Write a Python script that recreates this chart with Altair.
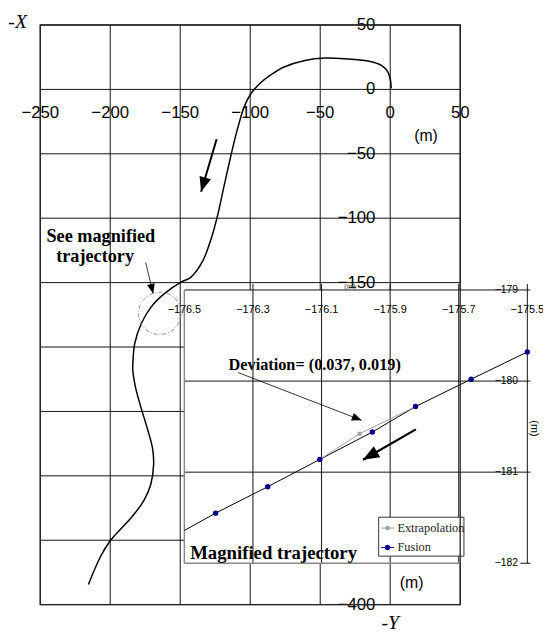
import math
import altair as alt
import pandas as pd

# ---------------- data ----------------
# main trajectory: horizontal = -Y (m), vertical = -X (m)
path_h = [0.7, 0.2, -1.7, -6.3, -15.8, -32.2, -46.3, -60.9, -75.8, -85.6, -93.1, -99.3,
          -104.2, -107.9, -111.6, -115.4, -119.1, -123.2, -127.7, -133.9, -142.5, -149.5,
          -161.3, -170.7, -177.7, -182.4, -183.6, -183.9, -182.2, -178.5, -173.5, -169.8,
          -169.0, -171.0, -176.0, -184.6, -193.3, -200.0, -206.9, -215.6]
path_v = [0.8, 7.2, 13.6, 18.6, 22.0, 23.8, 24.3, 22.5, 17.4, 11.0, 4.6, -3.0,
          -13.2, -26.0, -41.3, -59.1, -77.0, -97.4, -115.3, -133.1, -145.9, -149.7,
          -158.6, -168.8, -181.5, -196.8, -208.0, -217.3, -230.0, -245.3, -263.2, -278.5,
          -291.2, -306.5, -319.2, -332.0, -342.2, -350.4, -362.6, -384.3]

main_h_ticks = [-250, -200, -150, -100, -50, 0, 50]
main_h_labels = ["−250", "−200", "−150", "−100", "−50", "0", "50"]
main_v_ticks = [50, 0, -50, -100, -150, -200, -250, -300, -350, -400]
main_v_labels = ["50", "0", "−50", "−100", "−150", "−200", "−250", "−300", "−350", "−400"]

inset_h_ticks = [-176.5, -176.3, -176.1, -175.9, -175.7, -175.5]
inset_h_labels = ["−176.5", "−176.3", "−176.1", "−175.9", "−175.7", "−175.5"]
inset_v_ticks = [-179, -180, -181, -182]
inset_v_labels = ["−179", "−180", "−181", "−182"]

series_names = ["Extrapolation", "Fusion"]
fusion_h = [-175.500, -175.664, -175.826, -175.952, -176.105, -176.257, -176.409]
fusion_v = [-179.68, -179.98, -180.28, -180.56, -180.86, -181.16, -181.45]
fusion_tail_h, fusion_tail_v = -176.5, -181.64
extrap_h = [-176.105, -175.989, -175.826]
extrap_v = [-180.86, -180.578, -180.28]

# ---------------- layout ----------------
W, H = 426, 588
MAIN_X, MAIN_Y = [-250, 50], [-400, 50]
INSET_X, INSET_Y = [-176.5, -175.5], [-182, -179]
INSET_XR, INSET_YR = [146.2, 494.1], [546.0, 268.8]
TICK_UP = 0.065      # inset tick length above the top axis (in inset units)
TICK_RIGHT = 0.009   # inset tick length right of the right axis

SANS = "Liberation Sans, Arial, sans-serif"
SERIF = "Liberation Serif, Times New Roman, serif"
HEAD = "M0,0L-1,2.5L1,2.5Z"


def X(f, inset=False):
    if inset:
        sc = alt.Scale(domain=INSET_X, range=INSET_XR, nice=False, zero=False)
    else:
        sc = alt.Scale(domain=MAIN_X, nice=False, zero=False)
    return alt.X(f, type="quantitative", scale=sc, axis=None)


def Y(f, inset=False):
    if inset:
        sc = alt.Scale(domain=INSET_Y, range=INSET_YR, nice=False, zero=False)
    else:
        sc = alt.Scale(domain=MAIN_Y, nice=False, zero=False)
    return alt.Y(f, type="quantitative", scale=sc, axis=None)


def px_per_unit(inset):
    if inset:
        return (INSET_XR[1] - INSET_XR[0]) / 1.0, (INSET_YR[0] - INSET_YR[1]) / 3.0
    return W / 300.0, H / 450.0


def arrow(x1, y1, x2, y2, inset, sw, head, color="black"):
    sx, sy = px_per_unit(inset)
    dx, dy = (x2 - x1) * sx, -(y2 - y1) * sy
    ang = math.degrees(math.atan2(dx, -dy)) % 360
    df = pd.DataFrame({"x1": [x1], "y1": [y1], "x2": [x2], "y2": [y2]})
    line = alt.Chart(df).mark_rule(color=color, strokeWidth=sw).encode(
        x=X("x1", inset), y=Y("y1", inset), x2=alt.X2("x2"), y2=alt.Y2("y2"))
    tip = alt.Chart(df).mark_point(shape=HEAD, filled=True, size=head, angle=ang,
                                   color=color, opacity=1, strokeWidth=0).encode(
        x=X("x2", inset), y=Y("y2", inset))
    return [line, tip]


def text(t, h, v, inset=False, **kw):
    df = pd.DataFrame({"h": [h], "v": [v], "t": [t]})
    return alt.Chart(df).mark_text(**kw).encode(x=X("h", inset), y=Y("v", inset), text="t:N")


layers = []

# ---- main grid ----
layers.append(alt.Chart(pd.DataFrame({"v": main_h_ticks})).mark_rule(color="#111", strokeWidth=1)
              .encode(x=X("v"), y=alt.value(0), y2=alt.value(H)))
layers.append(alt.Chart(pd.DataFrame({"v": main_v_ticks})).mark_rule(color="#111", strokeWidth=1)
              .encode(y=Y("v"), x=alt.value(0), x2=alt.value(W)))

# ---- main tick labels (axes cross at the origin) ----
layers.append(alt.Chart(pd.DataFrame({"v": main_h_ticks, "t": main_h_labels, "z": 0}))
              .mark_text(font=SANS, fontSize=17, baseline="middle", dy=24, color="black")
              .encode(x=X("v"), y=Y("z"), text="t:N"))
layers.append(alt.Chart(pd.DataFrame({"v": main_v_ticks, "t": main_v_labels, "z": 0}))
              .mark_text(font=SANS, fontSize=17, baseline="middle", align="right", dx=-15, color="black")
              .encode(x=X("z"), y=Y("v"), text="t:N"))
layers.append(text("(m)", 25.6, -36.2, font=SANS, fontSize=16, baseline="middle"))
layers.append(text("(m)", 15.3, -383.0, font=SANS, fontSize=16, baseline="middle"))
layers.append(alt.Chart(pd.DataFrame({"t": ["-X"]})).mark_text(
    font=SERIF, fontStyle="italic", fontSize=20, baseline="middle")
    .encode(x=alt.value(-22.9), y=alt.value(-3.2), text="t:N"))
layers.append(alt.Chart(pd.DataFrame({"h": [0], "t": ["-Y"]})).mark_text(
    font=SERIF, fontStyle="italic", fontSize=20, baseline="middle")
    .encode(x=X("h"), y=alt.value(606.3), text="t:N"))

# ---- main trajectory ----
layers.append(alt.Chart(pd.DataFrame({"i": range(len(path_h)), "h": path_h, "v": path_v}))
              .mark_line(color="black", strokeWidth=1.5, interpolate="catmull-rom")
              .encode(x=X("h"), y=Y("v"), order=alt.Order("i:Q")))
layers += arrow(-124.0, -38.75, -135.1, -79.5, False, 2, 144)

# "See magnified trajectory" note
layers.append(text("See magnified", -206.7, -114.0, font=SERIF, fontWeight="bold", fontSize=18.5))
layers.append(text("trajectory", -210.8, -129.3, font=SERIF, fontWeight="bold", fontSize=18.5))
layers += arrow(-174.7, -134.4, -169.3, -158.6, False, 0.8, 64)
layers.append(alt.Chart(pd.DataFrame({"h": [-164.6], "v": [-173.9]})).mark_point(
    shape="circle", size=1849, filled=False, color="#8a8a8a", strokeWidth=1,
    strokeDash=[4, 2, 1, 2], opacity=1).encode(x=X("h"), y=Y("v")))

# ---------------- inset (magnified trajectory) ----------------
layers.append(alt.Chart(pd.DataFrame({"a": [INSET_X[0]], "b": [INSET_X[1]], "c": [INSET_Y[0]], "d": [INSET_Y[1]]}))
              .mark_rect(color="white", strokeWidth=0)
              .encode(x=X("a", True), x2=alt.X2("b"), y=Y("c", True), y2=alt.Y2("d")))
# vertical grid (with ticks above the top axis)
layers.append(alt.Chart(pd.DataFrame({"v": inset_h_ticks[1:-1], "top": INSET_Y[1] + TICK_UP, "bot": INSET_Y[0]}))
              .mark_rule(color="#111", strokeWidth=1)
              .encode(x=X("v", True), y=Y("top", True), y2=alt.Y2("bot")))
# horizontal grid + top axis
layers.append(alt.Chart(pd.DataFrame({"v": inset_v_ticks[:-1], "l": INSET_X[0], "r": INSET_X[1] + TICK_RIGHT}))
              .mark_rule(color="#111", strokeWidth=1)
              .encode(y=Y("v", True), x=X("l", True), x2=alt.X2("r")))
# right axis line
layers.append(alt.Chart(pd.DataFrame({"h": [INSET_X[1]], "top": [INSET_Y[1] + TICK_UP], "bot": [INSET_Y[0]]}))
              .mark_rule(color="#111", strokeWidth=1)
              .encode(x=X("h", True), y=Y("top", True), y2=alt.Y2("bot")))
# bottom tick on the right axis
layers.append(alt.Chart(pd.DataFrame({"v": [INSET_Y[0]], "l": [INSET_X[1] - 0.02], "r": [INSET_X[1] + TICK_RIGHT]}))
              .mark_rule(color="#111", strokeWidth=1)
              .encode(y=Y("v", True), x=X("l", True), x2=alt.X2("r")))
# gray frame (left + bottom)
layers.append(alt.Chart(pd.DataFrame({"h": [INSET_X[0]], "top": [INSET_Y[1]], "bot": [INSET_Y[0]]}))
              .mark_rule(color="#8a8a8a", strokeWidth=1.5)
              .encode(x=X("h", True), y=Y("top", True), y2=alt.Y2("bot")))
layers.append(alt.Chart(pd.DataFrame({"v": [INSET_Y[0]], "l": [INSET_X[0]], "r": [inset_h_ticks[-2]]}))
              .mark_rule(color="#8a8a8a", strokeWidth=1.5)
              .encode(y=Y("v", True), x=X("l", True), x2=alt.X2("r")))

# inset tick labels
layers.append(alt.Chart(pd.DataFrame({"v": inset_h_ticks, "t": inset_h_labels, "z": INSET_Y[1]}))
              .mark_text(font=SANS, fontSize=11, baseline="middle", dy=20, color="black")
              .encode(x=X("v", True), y=Y("z", True), text="t:N"))
layers.append(alt.Chart(pd.DataFrame({"v": inset_v_ticks, "t": inset_v_labels, "z": INSET_X[1]}))
              .mark_text(font=SANS, fontSize=10.5, baseline="middle", align="right", dx=-9.5, color="black")
              .encode(x=X("z", True), y=Y("v", True), text="t:N"))
layers.append(text("(m)", -175.482, -180.52, True, font=SANS, fontSize=11, angle=90, baseline="middle"))
layers.append(text("(m)", -176.017, -178.973, True, font=SANS, fontSize=8, baseline="middle", color="#555"))

# inset series
fus_df = pd.DataFrame({"i": range(len(fusion_h) + 1), "h": fusion_h + [fusion_tail_h], "v": fusion_v + [fusion_tail_v]})
layers.append(alt.Chart(fus_df).mark_line(color="black", strokeWidth=1)
              .encode(x=X("h", True), y=Y("v", True), order=alt.Order("i:Q")))
ext_df = pd.DataFrame({"i": range(len(extrap_h)), "h": extrap_h, "v": extrap_v})
layers.append(alt.Chart(ext_df).mark_line(color="#a0a0a0", strokeWidth=1)
              .encode(x=X("h", True), y=Y("v", True), order=alt.Order("i:Q")))
layers.append(alt.Chart(ext_df).mark_point(shape="square", filled=True, size=16, color="#a0a0a0", opacity=1)
              .encode(x=X("h", True), y=Y("v", True)))
layers.append(alt.Chart(pd.DataFrame({"h": fusion_h, "v": fusion_v})).mark_point(
    shape="circle", filled=True, size=30, color="#00008b", opacity=1)
    .encode(x=X("h", True), y=Y("v", True)))

# inset annotations
layers.append(text("Deviation= (0.037, 0.019)", -176.371, -179.882, True,
                   font=SERIF, fontWeight="bold", fontSize=16.5, align="left", baseline="alphabetic"))
layers += arrow(-176.343, -179.907, -175.983, -180.431, True, 0.8, 64)
layers += arrow(-175.825, -180.531, -175.979, -180.864, True, 2.2, 170)
layers.append(text("Magnified trajectory", -176.483, -181.949, True,
                   font=SERIF, fontWeight="bold", fontSize=19, align="left", baseline="alphabetic"))

# legend
one = pd.DataFrame({"k": [0]})
layers.append(alt.Chart(one).mark_rect(fill="white", stroke="#333", strokeWidth=1)
              .encode(x=alt.value(343.3), x2=alt.value(429.8), y=alt.value(499.3), y2=alt.value(538.8)))
leg_styles = [("#a0a0a0", "square", 16), ("#00008b", "circle", 30)]
for k, name in enumerate(series_names):
    yy = 510.3 + k * 19.7
    col, shp, sz = leg_styles[k]
    layers.append(alt.Chart(one).mark_rule(color=col, strokeWidth=1)
                  .encode(x=alt.value(345.8), x2=alt.value(358.8), y=alt.value(yy)))
    layers.append(alt.Chart(one).mark_point(shape=shp, filled=True, size=sz, color=col, opacity=1)
                  .encode(x=alt.value(352.3), y=alt.value(yy)))
    layers.append(alt.Chart(pd.DataFrame({"t": [name]})).mark_text(
        font=SERIF, fontSize=12.5, align="left", baseline="middle", color="#222")
        .encode(x=alt.value(362.3), y=alt.value(yy), text="t:N"))

# main frame on top
layers.append(alt.Chart(pd.DataFrame({"a": [MAIN_X[0]], "b": [MAIN_X[1]], "c": [MAIN_Y[0]], "d": [MAIN_Y[1]]}))
              .mark_rect(fillOpacity=0, stroke="#222", strokeWidth=1.3)
              .encode(x=X("a"), x2=alt.X2("b"), y=Y("c"), y2=alt.Y2("d")))

chart = (alt.layer(*layers)
         .resolve_scale(x="independent", y="independent")
         .properties(width=W, height=H,
                     padding={"left": 32.7, "top": 12.7, "right": 84, "bottom": 30},
                     autosize=alt.AutoSizeParams(type="none"))
         .configure_view(strokeOpacity=0))

chart.save("out.html", embed_options={"renderer": "svg", "actions": False})
